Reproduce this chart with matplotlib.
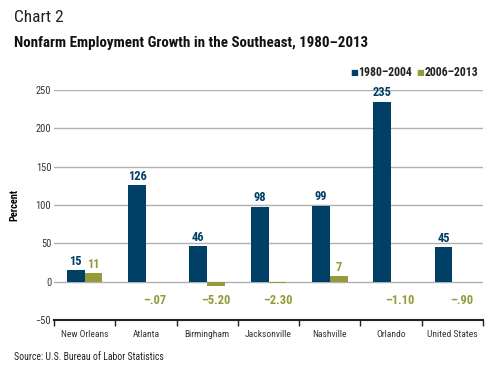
import matplotlib.pyplot as plt
import numpy as np

plt.rcParams['font.family'] = ['Roboto Condensed', 'DejaVu Sans']

cities = ['New Orleans', 'Atlanta', 'Birmingham', 'Jacksonville', 'Nashville', 'Orlando', 'United States']
g1980 = [15, 126, 46, 98, 99, 235, 45]
g2006 = [11, -0.07, -5.20, -2.30, 7, -1.10, -0.90]
lab2006 = ['11', '–.07', '–5.20', '–2.30', '7', '–1.10', '–.90']

blue = '#003f66'
olive = '#959a3a'

fig = plt.figure(figsize=(5, 3.8), dpi=100)
ax = fig.add_axes([0.108, 0.158, 0.858, 0.605])

x = np.arange(len(cities))
w = 0.29
ax.bar(x - w/2, g1980, w, color=blue, zorder=3)
ax.bar(x + w/2, g2006, w, color=olive, zorder=3)

for i in range(len(cities)):
    ax.text(x[i] - w/2, g1980[i] + 3, str(g1980[i]), ha='center', va='bottom',
            fontsize=9, fontweight='bold', color=blue)
    if g2006[i] > 0:
        ax.text(x[i] + w/2, g2006[i] + 3, lab2006[i], ha='center', va='bottom',
                fontsize=9, fontweight='bold', color=olive)
    else:
        ax.text(x[i] + w/2, -25, lab2006[i], ha='center', va='center',
                fontsize=9, fontweight='bold', color=olive)

ax.set_xlim(-0.5, len(cities) - 0.5)
ax.set_ylim(-50, 250)
ax.set_yticks(range(-50, 251, 50))
ax.yaxis.grid(True, color='#b0b0b0', linewidth=1, zorder=0)
ax.set_axisbelow(True)
ax.tick_params(axis='y', length=0, labelsize=7.5, pad=2, labelcolor='#333333')

ax.set_xticks(np.arange(-0.5, len(cities), 1))
ax.set_xticklabels([])
ax.set_xticks(x, minor=True)
ax.set_xticklabels(cities, minor=True)
ax.tick_params(axis='x', which='major', length=4, width=1, color='#222222')
ax.tick_params(axis='x', which='minor', length=0, labelsize=6.8, pad=7, labelcolor='#333333')

for s in ['top', 'right', 'left']:
    ax.spines[s].set_visible(False)
ax.spines['bottom'].set_linewidth(1.5)
ax.spines['bottom'].set_color('#222222')

ax.set_ylabel('Percent', fontsize=7.5, fontweight='bold', labelpad=12)

fig.text(0.028, 0.955, 'Chart 2', fontsize=12.5, va='center', color='#222222')
fig.text(0.028, 0.888, 'Nonfarm Employment Growth in the Southeast, 1980–2013',
         fontsize=10.8, fontweight='bold', va='center', color='#111111')
fig.text(0.028, 0.06, 'Source: U.S. Bureau of Labor Statistics', fontsize=7,
         va='center', color='#222222')

fig.text(0.700, 0.808, '■', fontsize=6, color=blue, va='center', family='DejaVu Sans')
fig.text(0.717, 0.808, '1980–2004', fontsize=8.5, fontweight='bold', va='center', color='#222222')
fig.text(0.832, 0.808, '■', fontsize=6, color=olive, va='center', family='DejaVu Sans')
fig.text(0.849, 0.808, '2006–2013', fontsize=8.5, fontweight='bold', va='center', color='#222222')

fig.savefig('out.png', dpi=100)
